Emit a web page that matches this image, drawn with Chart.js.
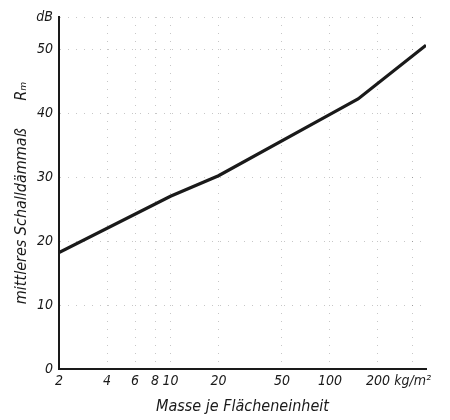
<!DOCTYPE html>
<html>
<head>
<meta charset="utf-8">
<script src="https://cdn.jsdelivr.net/npm/chart.js@4"></script>
<style>
  html, body { margin: 0; padding: 0; background: #fff; }
  #wrap { width: 450px; height: 420px; }
</style>
</head>
<body>
<div id="wrap"><canvas id="c"></canvas></div>
<script>
// Mass per unit area (kg/m²) and mean sound reduction index (dB)
const masses = [2, 10, 20, 100, 150, 400];
const dbValues = [18.2, 27, 30.2, 39.8, 42.2, 50.6];

// Tick positions shown on the axes
const xTicks = [2, 4, 6, 8, 10, 20, 50, 100, 200, 330];
const yTicks = [0, 10, 20, 30, 40, 50, 55];

const INK = '#1a1a1a';
const FONT = { family: "'Liberation Sans Narrow', 'DejaVu Sans Condensed', sans-serif", size: 14, style: 'italic' };
// faint broken grid, like the scanned original
const GRID = { color: 'rgba(0,0,0,0.22)', drawTicks: false };

new Chart(document.getElementById('c'), {
  type: 'line',
  data: {
    datasets: [{
      data: masses.map((m, i) => ({ x: m, y: dbValues[i] })),
      borderColor: INK,
      borderWidth: 3.2,
      pointRadius: 0,
      tension: 0,
      fill: false,
    }]
  },
  options: {
    responsive: true,
    maintainAspectRatio: false,
    animation: false,
    layout: { padding: { left: 0, right: 24, top: 17, bottom: 0 } },
    plugins: { legend: { display: false }, tooltip: { enabled: false } },
    scales: {
      x: {
        type: 'logarithmic',
        min: 2,
        max: 400,
        afterBuildTicks: s => { s.ticks = xTicks.map(v => ({ value: v })); },
        afterFit: s => { s.height = 51; },
        ticks: {
          color: INK,
          font: FONT,
          padding: 4,
          maxRotation: 0,
          autoSkip: false,
          callback: v => v === 330 ? 'kg/m²' : String(v),
        },
        grid: GRID,
        border: { color: INK, width: 2, dash: [1, 7] },
        title: {
          display: true,
          text: 'Masse je Flächeneinheit',
          color: INK,
          font: { ...FONT, size: 16 },
          padding: { top: 8 },
        },
      },
      y: {
        min: 0,
        max: 55,
        afterBuildTicks: s => { s.ticks = yTicks.map(v => ({ value: v })); },
        afterFit: s => { s.width = 59; },
        ticks: {
          color: INK,
          font: FONT,
          padding: 6,
          autoSkip: false,
          callback: v => v === 55 ? 'dB' : String(v),
        },
        grid: GRID,
        border: { color: INK, width: 2, dash: [1, 7] },
        title: {
          display: true,
          text: 'mittleres Schalldämmaß      Rₘ',
          color: INK,
          font: { ...FONT, size: 16 },
          padding: { top: 12, bottom: 0 },
        },
      }
    }
  }
});
</script>
</body>
</html>
